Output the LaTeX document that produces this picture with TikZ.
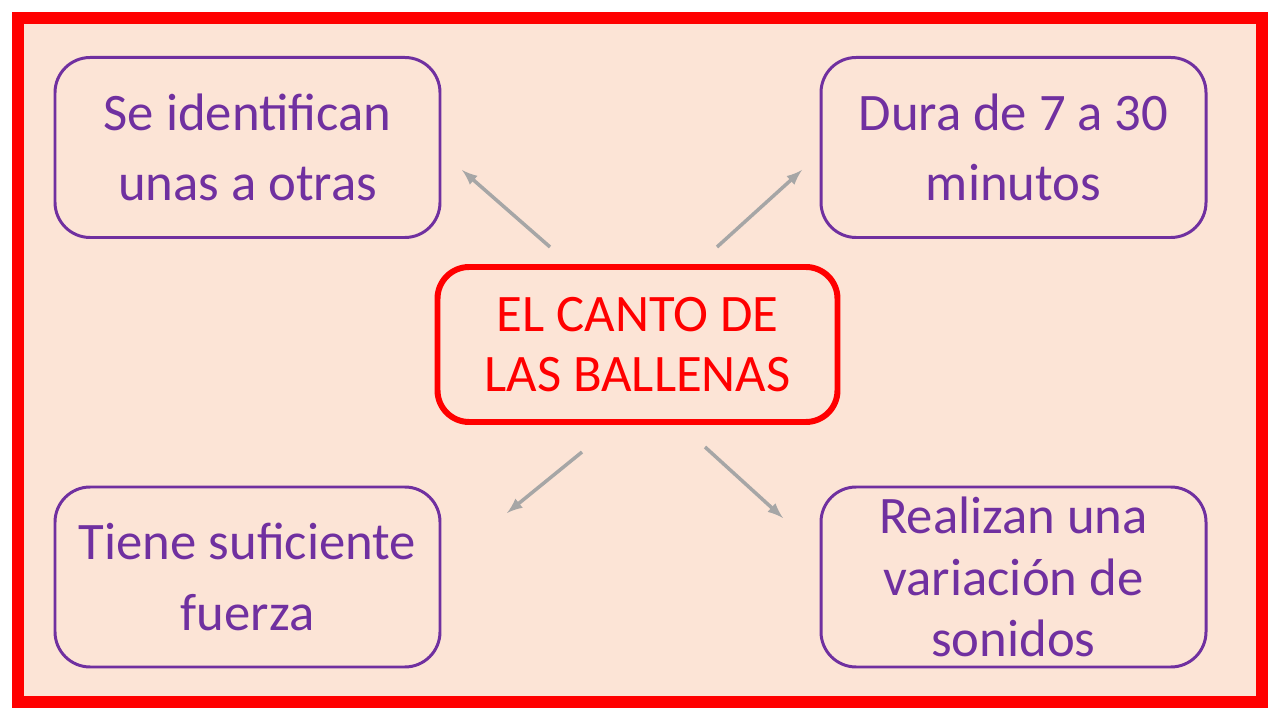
\documentclass[tikz,border=0pt]{standalone}
\usepackage{fontspec}
\setmainfont{Carlito}
\usetikzlibrary{positioning}
\definecolor{fondo}{HTML}{FCE4D6}
\definecolor{morado}{HTML}{7030A0}
\definecolor{gris}{HTML}{A6A6A6}
\tikzset{
  caja/.style={draw=morado, line width=3pt*0.567, rounded corners=20pt, minimum width=7.7cm, minimum height=3.6cm, align=center, text=morado, font=\fontsize{30}{40}\selectfont},
  centro/.style={draw=red, line width=6pt*0.567, rounded corners=18pt, minimum width=8cm, minimum height=3.1cm, align=center, text=red, font=\fontsize{30}{34}\selectfont},
  flecha/.style={draw=gris, line width=2pt, -latex}
}
\begin{document}
\begin{tikzpicture}
    \useasboundingbox (0,0) rectangle (25.6,14.4);
    \fill[white] (0,0) rectangle (25.6,14.4);
    \draw[red, line width=12pt*0.567, fill=fondo] (0.36,0.36) rectangle (25.24,14.04);
    \node[centro] (c) at (12.75,7.51) {EL CANTO DE\\LAS BALLENAS};
    \node[caja] (a) at (4.95,11.45) {Se identifican\\unas a otras};
    \node[caja] (b) at (20.27,11.45) {Dura de 7 a 30\\minutos};
    \node[caja] (d) at (4.95,2.86) {Tiene suficiente\\fuerza};
    \node[caja, font=\fontsize{30}{35}\selectfont] (e) at (20.27,2.86) {Realizan una\\variación de\\sonidos};
    % flechas
    \coordinate (a1) at (11.0,9.46);  \coordinate (a2) at (9.24,11.0);
    \coordinate (b1) at (14.34,9.46); \coordinate (b2) at (16.04,11.0);
    \coordinate (d1) at (11.64,5.36); \coordinate (d2) at (10.14,4.14);
    \coordinate (e1) at (14.1,5.46);  \coordinate (e2) at (15.66,4.04);
    \draw[flecha] (a1) -- (a2);
    \draw[flecha] (b1) -- (b2);
    \draw[flecha] (d1) -- (d2);
    \draw[flecha] (e1) -- (e2);
\end{tikzpicture}
\end{document}
